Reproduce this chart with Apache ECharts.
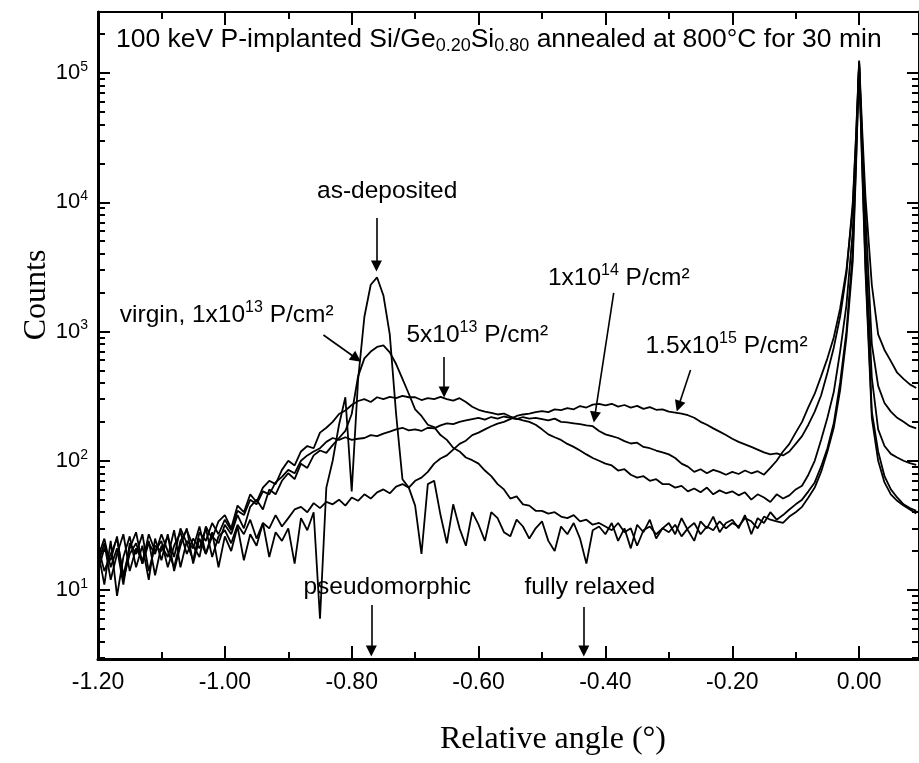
<!DOCTYPE html>
<html><head><meta charset="utf-8">
<script src="https://cdn.jsdelivr.net/npm/echarts@6/dist/echarts.min.js"></script>
<style>html,body{margin:0;padding:0;background:#fff}#c{width:919px;height:763px}</style>
</head><body><div id="c"></div>
<script>
// ---- data ----
const angles = [
 -1.20,-1.19,-1.18,-1.17,-1.16,-1.15,-1.14,-1.13,-1.12,-1.11,
 -1.10,-1.09,-1.08,-1.07,-1.06,-1.05,-1.04,-1.03,-1.02,-1.01,
 -1.00,-0.99,-0.98,-0.97,-0.96,-0.95,-0.94,-0.93,-0.92,-0.91,
 -0.90,-0.89,-0.88,-0.87,-0.86,-0.85,-0.84,-0.83,-0.82,-0.81,
 -0.80,-0.79,-0.78,-0.77,-0.76,-0.75,-0.74,-0.73,-0.72,-0.71,
 -0.70,-0.69,-0.68,-0.67,-0.66,-0.65,-0.64,-0.63,-0.62,-0.61,
 -0.60,-0.59,-0.58,-0.57,-0.56,-0.55,-0.54,-0.53,-0.52,-0.51,
 -0.50,-0.49,-0.48,-0.47,-0.46,-0.45,-0.44,-0.43,-0.42,-0.41,
 -0.40,-0.39,-0.38,-0.37,-0.36,-0.35,-0.34,-0.33,-0.32,-0.31,
 -0.30,-0.29,-0.28,-0.27,-0.26,-0.25,-0.24,-0.23,-0.22,-0.21,
 -0.20,-0.19,-0.18,-0.17,-0.16,-0.15,-0.14,-0.13,-0.12,-0.11,
 -0.10,-0.09,-0.08,-0.07,-0.06,-0.05,-0.04,-0.03,-0.02,-0.01,
 -0.005,0.00,0.005,
 0.01,0.02,0.03,0.04,0.05,0.06,0.07,0.08,0.09];

const asDeposited = [
 20,11,24,9,18,26,15,22,12,25,
 17,27,14,22,30,16,25,19,28,15,
 26,20,31,17,27,22,33,18,28,24,
 30,16,36,29,40,6,62,100,190,310,
 58,420,1300,2300,2620,1900,950,230,72,62,
 45,19,66,70,38,23,46,30,22,40,
 32,24,40,36,28,26,35,31,25,30,
 34,24,20,31,27,33,25,16,29,31,
 27,33,24,30,21,32,28,35,25,30,
 33,27,36,29,24,34,30,37,28,33,
 35,30,38,27,36,33,40,35,38,42,
 46,50,58,68,90,125,195,400,1000,4200,
 20000,115000,19000,
 3300,240,118,76,60,52,46,43,41];

const virgin1e13 = [
 16,23,12,19,27,14,21,17,24,13,
 22,18,29,15,24,21,31,19,26,23,
 32,27,38,30,44,50,42,60,55,70,
 80,72,95,88,110,120,115,132,150,170,
 230,450,620,700,760,780,690,560,430,330,
 250,222,190,182,158,145,126,118,106,101,
 95,84,76,66,60,51,53,46,45,41,
 41,39,40,37,36,38,34,35,32,33,
 31,29,33,28,30,22,29,31,27,30,
 28,32,26,30,33,27,31,29,34,30,
 33,31,36,34,30,37,35,34,33,37,
 40,44,52,62,82,118,180,350,900,3500,
 18000,122000,17000,
 2900,215,100,68,55,49,45,42,39];

const dose5e13 = [
 22,14,19,25,13,21,28,16,23,19,
 27,20,15,24,29,22,18,31,25,34,
 38,30,45,40,55,48,62,70,66,85,
 100,92,118,130,125,165,180,200,230,245,
 270,290,300,285,310,300,312,305,318,310,
 310,295,305,300,312,300,292,305,285,262,
 248,240,235,228,232,220,212,205,200,190,
 175,160,152,145,135,128,120,112,105,100,
 95,92,84,86,78,74,76,70,72,66,
 66,62,64,58,61,57,62,55,59,56,
 58,54,57,50,55,52,48,55,51,54,
 60,64,78,100,145,215,340,700,1600,6000,
 25000,118000,24000,
 4800,440,175,130,113,106,100,96,93];

const dose1e14 = [
 18,25,15,21,11,23,19,27,14,22,
 20,26,18,30,23,17,28,24,33,27,
 35,29,41,38,50,46,58,55,68,75,
 85,80,100,110,118,125,140,150,145,152,
 145,148,150,158,155,162,168,175,180,172,
 175,170,180,178,188,195,192,200,205,210,
 215,208,218,212,220,215,210,218,212,215,
 210,205,212,200,198,195,192,188,185,170,
 160,155,150,142,136,138,128,125,120,116,
 112,105,95,90,82,86,80,85,82,78,
 82,79,84,80,83,78,88,100,118,135,
 165,200,260,330,450,620,900,1500,3000,9000,
 30000,120000,29000,
 8000,800,380,280,240,215,200,185,178];

const dose1p5e15 = [
 14,21,17,26,12,19,23,16,27,20,
 24,15,22,28,19,25,21,30,18,26,
 29,23,32,27,35,25,33,30,38,31,
 36,42,44,40,47,43,48,46,50,45,
 52,49,55,51,57,60,56,63,66,62,
 70,74,82,95,104,110,122,135,143,158,
 165,175,185,194,200,210,222,228,232,238,
 242,238,250,246,255,250,265,258,272,276,
 268,276,262,270,258,266,252,260,248,250,
 240,236,232,225,215,200,190,178,168,158,
 148,140,134,128,122,116,112,114,110,118,
 135,155,190,240,320,480,750,1300,2800,10000,
 32000,125000,35000,
 11000,2300,950,720,590,480,430,390,365];

const seriesNames = ['as-deposited','virgin, 1x10^13','5x10^13','1x10^14','1.5x10^15'];
const xMajorTicks = [-1.2,-1.0,-0.8,-0.6,-0.4,-0.2,0.0];
const xMinorTicks = [-1.1,-0.9,-0.7,-0.5,-0.3,-0.1];
const yDecadeExponents = [1,2,3,4,5];
const yMinorMantissas = [2,3,4,5,6,7,8,9];

// annotation texts: [x, y, rich text]
const annoTexts = [
 [-0.744, 12200, '{t|as-deposited}'],
 [-0.997, 1343, '{t|virgin, 1x10}{s|13}{t| P/cm²}'],
 [-0.602, 940, '{t|5x10}{s|13}{t| P/cm²}'],
 [-0.379, 2595, '{t|1x10}{s|14}{t| P/cm²}'],
 [-0.209, 773, '{t|1.5x10}{s|15}{t| P/cm²}'],
 [-0.744, 10.55, '{t|pseudomorphic}'],
 [-0.4247, 10.55, '{t|fully relaxed}']
];
// arrows: [x1, y1, x2, y2]
const annoArrows = [
 [-0.761, 7550, -0.761, 3213],
 [-0.8446, 940, -0.7925, 618],
 [-0.6543, 635, -0.6543, 340],
 [-0.3869, 1986, -0.4170, 217.7],
 [-0.2658, 504, -0.2848, 263.8],
 [-0.7691, 7.66, -0.7691, 3.37],
 [-0.4341, 7.4, -0.4341, 3.37]
];

// ---- layout constants ----
const SANS = '"Liberation Sans", Arial, Helvetica, sans-serif';
const SERIF = '"Liberation Serif", "Times New Roman", serif';
const yLogMin = 0.4662, yLogMax = 5.472;
const xMin = -1.2, xMax = 0.0944;

const yMajorLog = yDecadeExponents.slice();
const yMinorLog = [];
[1,10,100,1000,10000,100000].forEach(d => yMinorMantissas.forEach(m => {
  const l = Math.log10(m * d);
  if (l >= yLogMin && l <= yLogMax) yMinorLog.push(l);
}));

const curves = [asDeposited, virgin1e13, dose5e13, dose1e14, dose1p5e15];

const chart = echarts.init(document.getElementById('c'), null, {renderer: 'canvas'});

const txtRich = {
  t: {fontFamily: SANS, fontSize: 24.5, fontWeight: 'normal', color: '#000', lineHeight: 30},
  s: {fontFamily: SANS, fontSize: 16, fontWeight: 'normal', color: '#000', lineHeight: 16, verticalAlign: 'top'}
};

function yOverlay(position, major, showLine) {
  return {
    type: 'value', position: position, min: yLogMin, max: yLogMax, gridIndex: 0,
    axisLine: {show: showLine, onZero: false, lineStyle: {color: '#000', width: 3}},
    splitLine: {show: false},
    axisTick: {show: true, inside: true, length: major ? 12 : 7,
      customValues: major ? yMajorLog : yMinorLog, lineStyle: {color: '#000', width: 2}},
    axisLabel: (major && position === 'left') ? {
      show: true, customValues: yMajorLog, margin: 10,
      formatter: v => '{b|10}{s|' + Math.round(v) + '}',
      rich: {
        b: {fontFamily: SANS, fontSize: 22, color: '#000', lineHeight: 26},
        s: {fontFamily: SANS, fontSize: 14, color: '#000', lineHeight: 14, verticalAlign: 'top'}
      }
    } : {show: false}
  };
}
function xOverlay(position, major, lineWidth, withLabels) {
  return {
    type: 'value', position: position, min: xMin, max: xMax, gridIndex: 0,
    axisLine: {show: lineWidth > 0, onZero: false, lineStyle: {color: '#000', width: lineWidth || 1}},
    splitLine: {show: false},
    axisTick: {show: true, inside: true, length: major ? 13 : 7,
      customValues: major ? xMajorTicks : xMinorTicks, lineStyle: {color: '#000', width: 2}},
    axisLabel: withLabels ? {
      show: true, customValues: xMajorTicks, margin: 12,
      formatter: v => v.toFixed(2),
      fontFamily: SANS, fontSize: 23, color: '#000'
    } : {show: false}
  };
}

const series = curves.map((vals, k) => ({
  name: seriesNames[k], type: 'line', xAxisIndex: 0, yAxisIndex: 0,
  data: angles.map((a, i) => [a, vals[i]]),
  showSymbol: false, symbol: 'none', silent: true, animation: false,
  lineStyle: {color: '#000', width: 1.8}, clip: true
}));

series.push({
  name: 'annotations', type: 'line', xAxisIndex: 0, yAxisIndex: 0, data: [],
  silent: true, animation: false,
  markLine: {
    silent: true, animation: false,
    symbol: ['none', 'triangle'], symbolSize: 11,
    label: {show: false},
    lineStyle: {color: '#000', width: 1.6, type: 'solid'},
    itemStyle: {color: '#000'},
    emphasis: {disabled: true},
    data: annoArrows.map(a => [{coord: [a[0], a[1]]}, {coord: [a[2], a[3]]}])
  },
  markPoint: {
    silent: true, animation: false, symbol: 'circle', symbolSize: 0,
    itemStyle: {color: 'rgba(0,0,0,0)'},
    label: {show: true, position: 'inside', color: '#000', rich: txtRich},
    emphasis: {disabled: true},
    data: annoTexts.map(t => ({coord: [t[0], t[1]], value: 0,
      label: {show: true, position: 'inside', formatter: t[2], rich: txtRich}}))
  }
});

chart.setOption({
  animation: false,
  backgroundColor: '#fff',
  title: {
    left: 116, top: 25, padding: 0,
    text: '{a|100 keV P-implanted Si/Ge}{b|0.20}{a|Si}{b|0.80}{a| annealed at 800°C for 30 min}',
    textStyle: {
      fontWeight: 'normal',
      rich: {
        a: {fontFamily: SANS, fontSize: 26.5, fontWeight: 'normal', color: '#000', lineHeight: 30},
        b: {fontFamily: SANS, fontSize: 18, fontWeight: 'normal', color: '#000', lineHeight: 18, verticalAlign: 'bottom'}
      }
    }
  },
  grid: {left: 98, top: 12, width: 823, height: 647, containLabel: false, show: false},
  xAxis: [
    {type: 'value', position: 'bottom', min: xMin, max: xMax, gridIndex: 0,
     axisLine: {show: false, onZero: false}, axisTick: {show: false}, axisLabel: {show: false}, splitLine: {show: false}},
    xOverlay('bottom', true, 3, true),
    xOverlay('bottom', false, 0, false),
    xOverlay('top', true, 2, false),
    xOverlay('top', false, 0, false)
  ],
  yAxis: [
    {type: 'log', logBase: 10, min: Math.pow(10, yLogMin), max: Math.pow(10, yLogMax), gridIndex: 0,
     axisLine: {show: false, onZero: false}, axisTick: {show: false}, axisLabel: {show: false}, splitLine: {show: false}},
    yOverlay('left', true, true),
    yOverlay('left', false, false),
    yOverlay('right', true, true),
    yOverlay('right', false, false)
  ],
  graphic: [
    {type: 'text', x: 553, y: 740, silent: true,
     style: {text: 'Relative angle (°)', font: '32px ' + SERIF, fill: '#000', textAlign: 'center', textVerticalAlign: 'middle'}},
    {type: 'text', x: 37, y: 295, rotation: Math.PI / 2, silent: true,
     style: {text: 'Counts', font: '32px ' + SERIF, fill: '#000', textAlign: 'center', textVerticalAlign: 'middle'}}
  ],
  series: series
});
</script>
</body></html>
